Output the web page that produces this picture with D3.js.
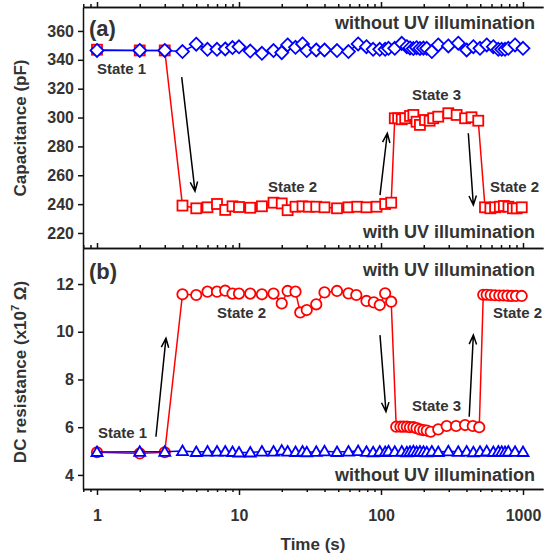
<!DOCTYPE html>
<html>
<head>
<meta charset="UTF-8">
<title>Capacitance and DC resistance vs time</title>
<script src="https://d3js.org/d3.v7.min.js"></script>
<style>
  body { margin: 0; background: #fff; }
  text { font-family: "Liberation Sans", Arial, sans-serif; font-weight: bold; fill: #333; }
</style>
</head>
<body>
<svg id="chart" width="544" height="556"></svg>
<script>
// ---- data ----
// (a) capacitance, without UV (blue diamonds)
const darkTime = [1,2,3,4,5,6,7,8,9,10, 12,14.5,17.5,20,22,25,28,30,35,40,
  49,59,69,79,88,98,107,113,125,140, 152,160,169,178,188,199,210,228,253,298,
  350,401,447,498,555,618,670,708,747,788, 879,1000];
const capDark = [346.5,346.5,346.5,345.7,350.8,347.3,347.3,347.5,348.5,349,
  346.1,344.5,346.4,345,350.3,348.7,351,346.4,346.8,346.8,
  346.4,345.7,351,349.1,347.3,347.3,347.3,348,348,351.4,
  349.1,348.2,347.8,348.4,347.9,348.1,348,345.7,350.3,349.6,
  351.5,346.8,349.1,348,350.3,349.1,347.3,347.3,347.3,348,
  350.3,348];
// (a) capacitance, with UV (red squares)
const capUvTime = [1,2,3,4,5,6,7,8,9,10, 12,14.5,17.5,20,22,25,28,31,35,40,
  49,59,68,79,93,107,118,
  125,132,140,148,160,169,178,188,204,220,233,253,298,341,391,434,484,
  540,589,636,687,733,790,849,903,980];
const capUv = [347,346.5,346.5,239,237.1,237.8,240.1,236,238.5,238,
  237.5,238.5,241,240.5,235.8,238.2,238.5,238.2,238.2,237.8,
  237.1,237.8,238.2,237.8,238.2,240.1,241,
  299.5,299.5,298.8,299.5,301.1,301.8,297.1,294.9,298.3,297.8,299.5,300.6,303,301.8,299.5,300.2,297.8,
  237.8,237.1,237.8,238.2,238.7,238.2,237.1,237.1,237.8];
// (b) DC resistance (x10^7 ohm), without UV (blue triangles), same times as darkTime
const resDark = [4.96,4.97,4.97,5.0,4.96,4.98,4.98,4.98,4.96,4.94,
  4.94,4.98,4.98,5.02,4.98,4.96,4.98,4.95,4.97,4.99,
  4.96,4.98,5.0,4.97,4.95,4.98,4.96,4.99,4.97,4.98,
  4.95,4.97,4.99,4.96,4.98,4.97,4.95,4.98,4.96,4.99,
  4.97,4.98,4.95,4.97,4.99,4.96,4.98,4.97,4.96,4.98,
  4.97,4.96];
// (b) DC resistance, with UV (red circles)
const resUvTime = [1,2,3,4,5,6,7,8,9,10, 12,14.5,17.5,20,22,25,27,30,35,40,
  49,59,67,79,89,98,107,118,
  128,137,144,152,160,169,178,188,199,210,224,253,290,338,391,443,492,
  525,555,592,635,681,727,776,833,893,979];
const resUv = [4.95,4.9,4.95,11.57,11.54,11.68,11.68,11.72,11.6,11.6,
  11.6,11.57,11.6,11.19,11.71,11.68,10.81,10.91,11.15,11.65,
  11.71,11.61,11.54,11.29,11.23,11.12,11.61,11.26,
  6.02,6.02,6.02,6.02,6.0,6.0,5.96,5.91,5.88,5.86,5.81,5.91,6.05,6.05,6.09,6.05,6.0,
  11.55,11.55,11.54,11.53,11.52,11.52,11.51,11.5,11.5,11.5];

const capTicks = [220,240,260,280,300,320,340,360];
const resTicks = [4,6,8,10,12];
const timeTicks = [1,10,100,1000];

// ---- layout ----
const svg = d3.select("#chart");
const left = 83, right = 543;
const topA = 7, midY = 248, botB = 489;
const red = "#ff0000", blue = "#0000ff";

const x = d3.scaleLog().domain([0.797, 1383]).range([left, right]);
const yA = d3.scaleLinear().domain([209.6, 376.6]).range([midY, topA]);
const yB = d3.scaleLinear().domain([3.41, 13.51]).range([botB, midY]);
const minorTicks = x.ticks().filter(d => timeTicks.indexOf(d) < 0);

function styleAxis(g) {
  g.attr("font-family", null).attr("font-size", null);
  g.selectAll("path, line").attr("stroke", "#111").attr("stroke-width", 1.5);
  g.selectAll("text").style("font-size", "16px").attr("fill", "#333");
}

// left axes
svg.append("g").attr("transform", "translate(" + left + ",0)")
  .call(d3.axisLeft(yA).tickValues(capTicks).tickSize(5).tickSizeOuter(0).tickPadding(4))
  .call(styleAxis);
svg.append("g").attr("transform", "translate(" + left + ",0)")
  .call(d3.axisLeft(yB).tickValues(resTicks).tickSize(5).tickSizeOuter(0).tickPadding(4))
  .call(styleAxis);

// horizontal axes: top, middle (ticks up), bottom (ticks down, labelled)
[topA, midY].forEach(yy => {
  svg.append("g").attr("transform", "translate(0," + yy + ")")
    .call(d3.axisTop(x).tickValues(timeTicks).tickSize(5).tickSizeOuter(0).tickFormat(""))
    .call(styleAxis);
  svg.append("g").attr("transform", "translate(0," + yy + ")")
    .call(d3.axisTop(x).tickValues(minorTicks).tickSize(3).tickSizeOuter(0).tickFormat(""))
    .call(styleAxis);
});
svg.append("g").attr("transform", "translate(0," + botB + ")")
  .call(d3.axisBottom(x).tickValues(minorTicks).tickSize(3).tickSizeOuter(0).tickFormat(""))
  .call(styleAxis);
svg.append("g").attr("transform", "translate(0," + botB + ")")
  .call(d3.axisBottom(x).tickValues(timeTicks).tickSize(6).tickSizeOuter(0).tickPadding(15)
    .tickFormat(d3.format("d")))
  .call(styleAxis);

// ---- series ----
function series(times, vals, y, color, shape) {
  const pts = times.map((t, i) => ({t: t, v: vals[i]}));
  const line = d3.line().x(d => x(d.t)).y(d => y(d.v));
  svg.append("path").datum(pts).attr("d", line)
    .attr("fill", "none").attr("stroke", color).attr("stroke-width", 1.5);
  const g = svg.append("g").attr("fill", "#fff").attr("stroke", color).attr("stroke-width", 1.8);
  pts.forEach(d => {
    const cx = x(d.t), cy = y(d.v);
    if (shape === "square") {
      g.append("rect").attr("x", cx - 5).attr("y", cy - 5).attr("width", 10).attr("height", 10);
    } else if (shape === "diamond") {
      g.append("path").attr("d", "M" + cx + "," + (cy - 6.5) + "L" + (cx + 6.5) + "," + cy +
        "L" + cx + "," + (cy + 6.5) + "L" + (cx - 6.5) + "," + cy + "Z");
    } else if (shape === "circle") {
      g.append("circle").attr("cx", cx).attr("cy", cy).attr("r", 5.2);
    } else {
      g.append("path").attr("d", "M" + cx + "," + (cy - 5.5) + "L" + (cx + 5.5) + "," + (cy + 4) +
        "L" + (cx - 5.5) + "," + (cy + 4) + "Z");
    }
  });
}
series(capUvTime, capUv, yA, red, "square");
series(darkTime, capDark, yA, blue, "diamond");
series(resUvTime, resUv, yB, red, "circle");
series(darkTime, resDark, yB, blue, "triangle");

// ---- arrows (data coordinates) ----
function arrow(t0, v0, t1, v1, y) {
  const x0 = x(t0), y0 = y(v0), x1 = x(t1), y1 = y(v1);
  const a = Math.atan2(y1 - y0, x1 - x0), L = 10, w = 0.38;
  svg.append("path")
    .attr("d", "M" + x0 + "," + y0 + "L" + x1 + "," + y1 +
      "M" + (x1 - L * Math.cos(a - w)) + "," + (y1 - L * Math.sin(a - w)) + "L" + x1 + "," + y1 +
      "L" + (x1 - L * Math.cos(a + w)) + "," + (y1 - L * Math.sin(a + w)))
    .attr("fill", "none").attr("stroke", "#000").attr("stroke-width", 1.5);
}
arrow(3.95, 328, 4.9, 249, yA);
arrow(98.4, 246.3, 110.8, 289.1, yA);
arrow(412, 289.1, 447, 239.4, yA);
arrow(2.6, 5.6, 3.06, 9.73, yB);
arrow(98.4, 9.86, 108.4, 6.65, yB);
arrow(418, 6.44, 447, 9.86, yB);

// ---- text ----
function label(px, py, s, size, anchor) {
  return svg.append("text").attr("x", px).attr("y", py)
    .attr("text-anchor", anchor || "start").style("font-size", size + "px").text(s);
}
label(89, 36, "(a)", 22);
label(89, 279, "(b)", 22);
label(535, 29, "without UV illumination", 18, "end");
label(535, 238, "with UV illumination", 18, "end");
label(535, 276, "with UV illumination", 18, "end");
label(535, 481, "without UV illumination", 18, "end");
label(97, 74, "State 1", 15);
label(268, 192, "State 2", 15);
label(412, 100, "State 3", 15);
label(490, 192, "State 2", 15);
label(217, 318, "State 2", 15);
label(98, 438, "State 1", 15);
label(412, 411, "State 3", 15);
label(493, 318, "State 2", 15);

label(313, 550, "Time (s)", 17, "middle");
svg.append("text").attr("transform", "translate(26,128) rotate(-90)")
  .attr("text-anchor", "middle").style("font-size", "17px").text("Capacitance (pF)");
const yt = svg.append("text").attr("transform", "translate(26,372) rotate(-90)")
  .attr("text-anchor", "middle").style("font-size", "17px");
yt.append("tspan").text("DC resistance (x10");
yt.append("tspan").attr("dy", -7).style("font-size", "11px").text("7");
yt.append("tspan").attr("dy", 7).text(" Ω)");
</script>
</body>
</html>
